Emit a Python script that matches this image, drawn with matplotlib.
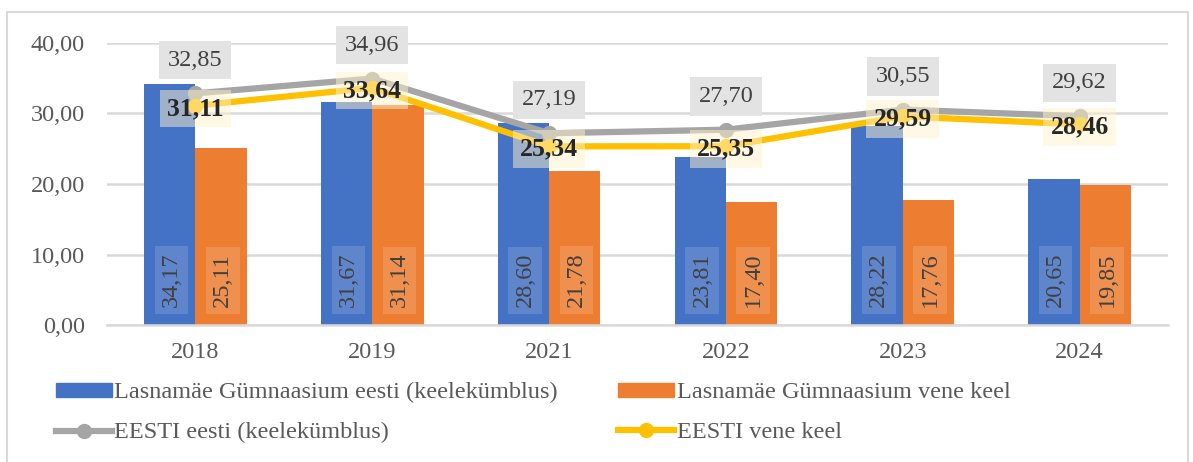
import numpy as np
import matplotlib.pyplot as plt
from matplotlib.patches import Rectangle
from matplotlib.lines import Line2D

plt.rcParams['font.family'] = ['Liberation Serif', 'DejaVu Serif']

years = ["2018", "2019", "2021", "2022", "2023", "2024"]
lg_eesti = [34.17, 31.67, 28.60, 23.81, 28.22, 20.65]
lg_vene = [25.11, 31.14, 21.78, 17.40, 17.76, 19.85]
eesti_eesti = [32.85, 34.96, 27.19, 27.70, 30.55, 29.62]
eesti_vene = [31.11, 33.64, 25.34, 25.35, 29.59, 28.46]

names = ["Lasnamäe Gümnaasium eesti (keelekümblus)", "Lasnamäe Gümnaasium vene keel",
         "EESTI eesti (keelekümblus)", "EESTI vene keel"]
c_blue, c_orange, c_gray, c_yellow = "#4472c4", "#ed7d31", "#a5a5a5", "#ffc000"
fs = 17.5

def fmt(v):
    return f"{v:.2f}".replace(".", ",")

fig = plt.figure(figsize=(11.93, 4.62), dpi=100)
fig.patches.append(Rectangle((0.006, -0.01), 0.99, 0.985, transform=fig.transFigure,
                             fill=False, edgecolor="#d9d9d9", linewidth=1.5))
ax = fig.add_axes([0.0897, 0.2965, 0.8893, 0.6105])

x = np.arange(len(years))
w = 0.29
ax.bar(x - w / 2, lg_eesti, w, color=c_blue, zorder=2)
ax.bar(x + w / 2, lg_vene, w, color=c_orange, zorder=2)

# vertical value labels near the bottom of the bars
for xs, vals in [(x - w / 2, lg_eesti), (x + w / 2, lg_vene)]:
    for xi, v in zip(xs, vals):
        ax.text(xi + 0.01, 2.5, fmt(v), rotation=90, ha="center", va="bottom", fontsize=fs,
                color="#404040", zorder=3,
                bbox=dict(boxstyle="square,pad=0.26", facecolor="white", alpha=0.15, edgecolor="none"))

ax.plot(x, eesti_eesti, color=c_gray, lw=4.5, marker="o", ms=10, zorder=4, solid_capstyle="round")
ax.plot(x, eesti_vene, color=c_yellow, lw=4.5, marker="o", ms=10, zorder=5, solid_capstyle="round")

for xi, v in zip(x, eesti_eesti):
    ax.annotate(fmt(v), (xi, v), xytext=(0, 24), textcoords="offset points", ha="center", va="center",
                fontsize=fs, color="#404040", zorder=6, annotation_clip=False,
                bbox=dict(boxstyle="square,pad=0.36", facecolor="#e3e3e3", edgecolor="none"))
for xi, v in zip(x, eesti_vene):
    ax.annotate(fmt(v), (xi, v), xytext=(0, -2), textcoords="offset points", ha="center", va="center",
                fontsize=18.5, color="#262626", fontweight="bold", zorder=6, annotation_clip=False,
                bbox=dict(boxstyle="square,pad=0.28", facecolor="#fff2cc", alpha=0.5, edgecolor="none"))

ax.set_xlim(-0.5, len(years) - 0.5)
ax.set_ylim(0, 40)
ax.set_yticks([0, 10, 20, 30, 40])
ax.set_yticklabels([fmt(t) for t in [0, 10, 20, 30, 40]])
ax.set_xticks(x)
ax.set_xticklabels(years)
ax.tick_params(axis="both", length=0, labelsize=fs, labelcolor="#595959")
ax.tick_params(axis="y", pad=16)
ax.tick_params(axis="x", pad=12)
ax.grid(axis="y", color="#d9d9d9", lw=1.8, zorder=0)
ax.set_axisbelow(True)
for s in ["top", "right", "left"]:
    ax.spines[s].set_visible(False)
ax.spines["bottom"].set_color("#d9d9d9")
ax.spines["bottom"].set_linewidth(1.8)

handles = [Rectangle((0, 0), 1, 1, color=c_blue),
           Line2D([], [], color=c_gray, lw=4.5, marker="o", ms=10),
           Rectangle((0, 0), 1, 1, color=c_orange),
           Line2D([], [], color=c_yellow, lw=4.5, marker="o", ms=10)]
labels = [names[0], names[2], names[1], names[3]]
fig.legend(handles, labels, ncol=2, loc="upper left", bbox_to_anchor=(0.0467, 0.173), frameon=False,
           fontsize=fs, labelcolor="#595959", handlelength=2.3, handleheight=0.5, handletextpad=0.1,
           labelspacing=0.78, columnspacing=2.5, borderpad=0, borderaxespad=0)

fig.savefig("out.png", dpi=100)
